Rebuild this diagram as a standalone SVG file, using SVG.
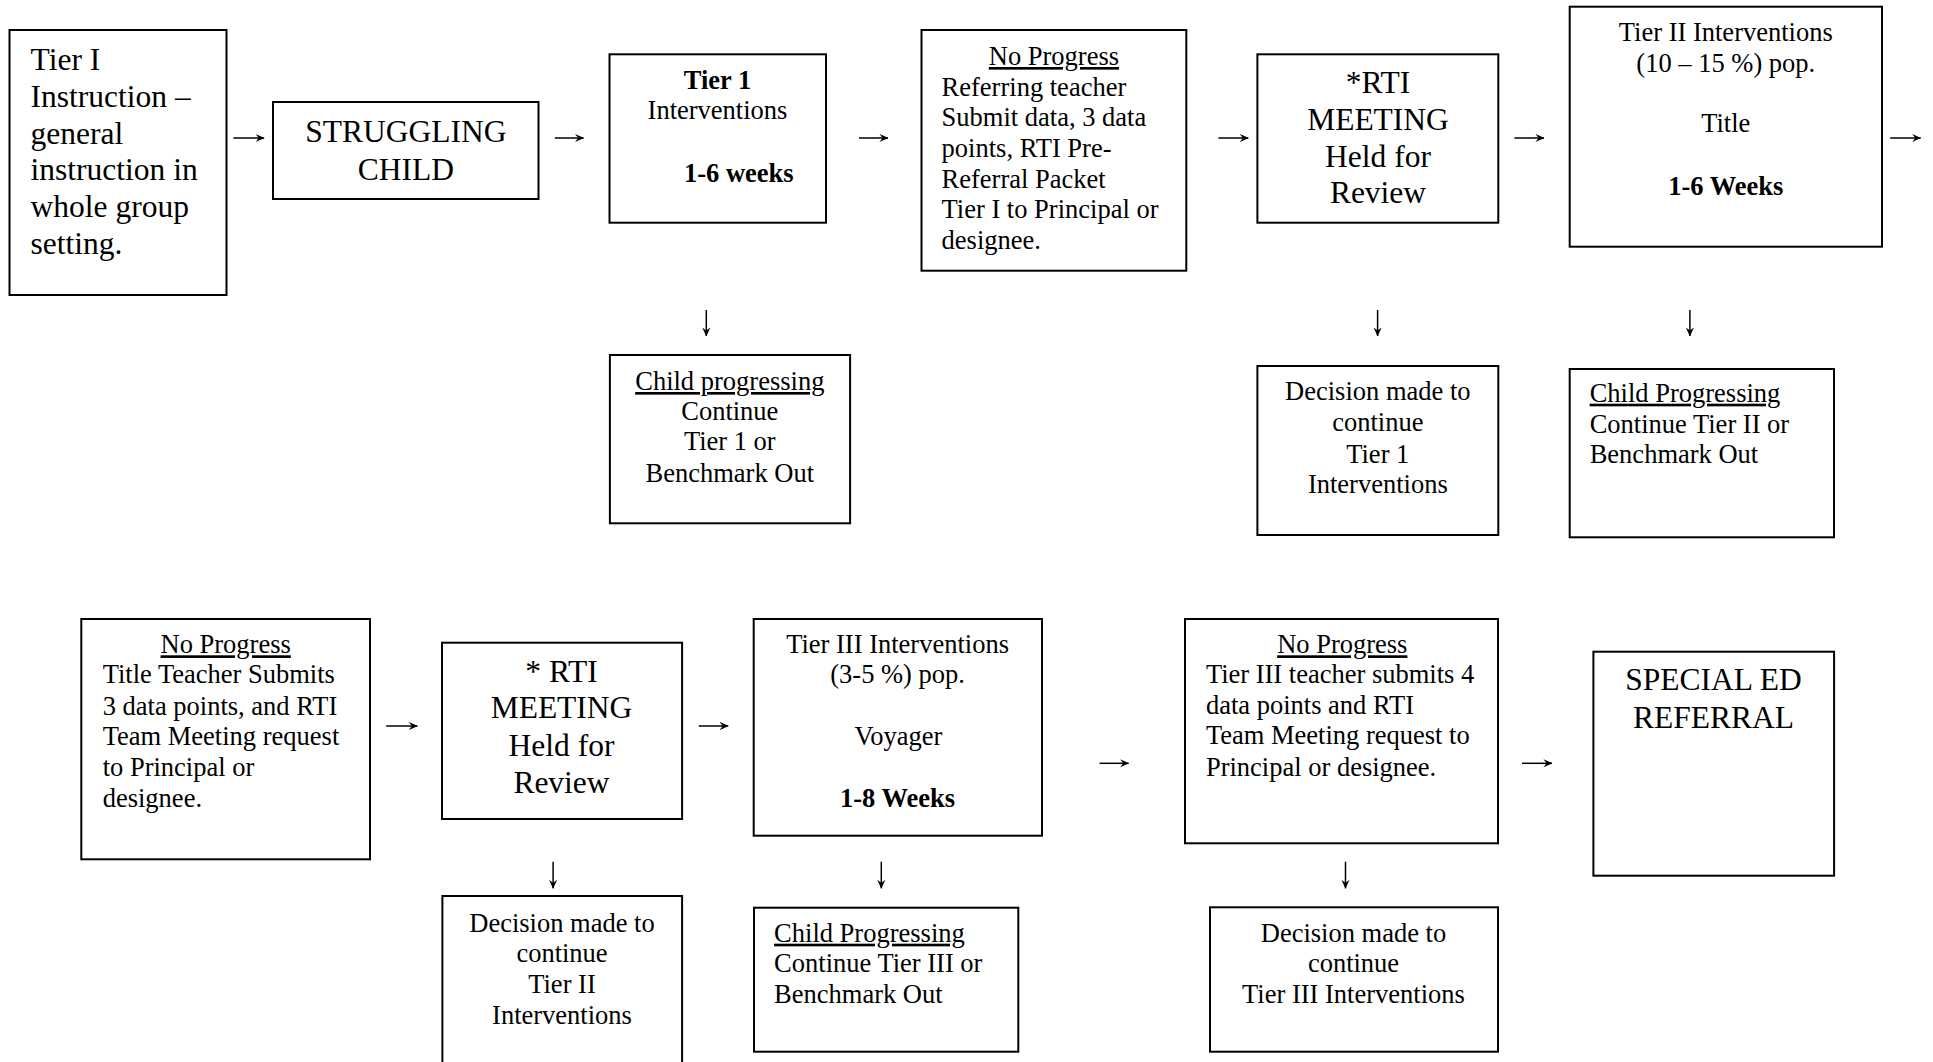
<svg xmlns="http://www.w3.org/2000/svg" width="1933" height="1062" viewBox="0 0 1933 1062">
<style>
.box{fill:#fff;stroke:#000;stroke-width:2}
.t{font-family:"Liberation Serif","Times New Roman",serif;fill:#000}
.big{font-size:31.5px}
.med{font-size:26.5px}
.c{text-anchor:middle}
.b{font-weight:bold}
.u{text-decoration:underline}
.conn{stroke:#000;stroke-width:1.5;fill:none}
</style>
<defs>
<marker id="ah" viewBox="0 0 10 10" refX="9.5" refY="5" markerWidth="9" markerHeight="9" markerUnits="userSpaceOnUse" orient="auto">
<path d="M0,0.5 L10,5 L0,9.5 L3.5,5 Z" fill="#000" stroke="none"/>
</marker>
</defs>
<rect width="1933" height="1062" fill="#fff"/>

<g id="connectors">
<path class="conn" marker-end="url(#ah)" d="M233.4,138 H264.1"/>
<path class="conn" marker-end="url(#ah)" d="M554.9,138 H583.6"/>
<path class="conn" marker-end="url(#ah)" d="M859,138 H888"/>
<path class="conn" marker-end="url(#ah)" d="M1218.4,138 H1248.3"/>
<path class="conn" marker-end="url(#ah)" d="M1514.4,138 H1544"/>
<path class="conn" marker-end="url(#ah)" d="M1890.2,138 H1920.7"/>
<path class="conn" marker-end="url(#ah)" d="M386.2,726 H417.4"/>
<path class="conn" marker-end="url(#ah)" d="M698.8,726 H728.2"/>
<path class="conn" marker-end="url(#ah)" d="M1099.6,763.3 H1128.7"/>
<path class="conn" marker-end="url(#ah)" d="M1522,763.3 H1552"/>
<path class="conn" marker-end="url(#ah)" d="M706.3,310 V336"/>
<path class="conn" marker-end="url(#ah)" d="M1377.6,310 V336"/>
<path class="conn" marker-end="url(#ah)" d="M1689.9,310 V336"/>
<path class="conn" marker-end="url(#ah)" d="M553.1,861.7 V888.3"/>
<path class="conn" marker-end="url(#ah)" d="M881.3,861.7 V888.3"/>
<path class="conn" marker-end="url(#ah)" d="M1345.5,861.7 V888.3"/>
</g>

<g id="tier1-instruction">
<rect class="box" x="9.5" y="30" width="217" height="265"/>
<text class="t big" x="30.6" y="70">Tier I</text>
<text class="t big" x="30.6" y="107">Instruction –</text>
<text class="t big" x="30.6" y="143.5">general</text>
<text class="t big" x="30.6" y="180">instruction in</text>
<text class="t big" x="30.6" y="217">whole group</text>
<text class="t big" x="30.6" y="253.5">setting.</text>
</g>

<g id="struggling-child">
<rect class="box" x="273" y="102" width="265.5" height="97"/>
<text class="t big c" x="405.8" y="142">STRUGGLING</text>
<text class="t big c" x="405.8" y="180">CHILD</text>
</g>

<g id="tier1-interventions">
<rect class="box" x="609.5" y="54.3" width="216.5" height="168.4"/>
<text class="t med c b" x="717.5" y="89">Tier 1</text>
<text class="t med c" x="717.5" y="119.3">Interventions</text>
<text class="t med b" x="684" y="181.7">1-6 weeks</text>
</g>

<g id="no-progress-1">
<rect class="box" x="921.5" y="30" width="264.8" height="240.7"/>
<text class="t med c u" x="1053.9" y="65">No Progress</text>
<text class="t med" x="941.6" y="95.7">Referring teacher</text>
<text class="t med" x="941.6" y="126">Submit data, 3 data</text>
<text class="t med" x="941.6" y="156.7">points, RTI Pre-</text>
<text class="t med" x="941.6" y="187.7">Referral Packet</text>
<text class="t med" x="941.6" y="218.3">Tier I to Principal or</text>
<text class="t med" x="941.6" y="249.3">designee.</text>
</g>

<g id="rti-meeting-1">
<rect class="box" x="1257.4" y="54.3" width="240.9" height="168.4"/>
<text class="t big c" x="1378" y="93.3">*RTI</text>
<text class="t big c" x="1378" y="130">MEETING</text>
<text class="t big c" x="1378" y="166.7">Held for</text>
<text class="t big c" x="1378" y="202.7">Review</text>
</g>

<g id="tier2-interventions">
<rect class="box" x="1569.7" y="6.7" width="312.3" height="240"/>
<text class="t med c" x="1725.8" y="40.7">Tier II Interventions</text>
<text class="t med c" x="1725.8" y="71.7">(10 – 15 %) pop.</text>
<text class="t med c" x="1725.8" y="131.7">Title</text>
<text class="t med c b" x="1725.8" y="195">1-6 Weeks</text>
</g>

<g id="child-progressing-1">
<rect class="box" x="609.9" y="355" width="240.2" height="168.3"/>
<text class="t med c u" x="729.8" y="390">Child progressing</text>
<text class="t med c" x="729.8" y="420">Continue</text>
<text class="t med c" x="729.8" y="450">Tier 1 or</text>
<text class="t med c" x="729.8" y="481.7">Benchmark Out</text>
</g>

<g id="decision-1">
<rect class="box" x="1257.4" y="366" width="240.9" height="169"/>
<text class="t med c" x="1377.8" y="400">Decision made to</text>
<text class="t med c" x="1377.8" y="431">continue</text>
<text class="t med c" x="1377.8" y="462.7">Tier 1</text>
<text class="t med c" x="1377.8" y="493.3">Interventions</text>
</g>

<g id="child-progressing-2">
<rect class="box" x="1569.7" y="369" width="264.3" height="168.3"/>
<text class="t med u" x="1589.7" y="401.7">Child Progressing</text>
<text class="t med" x="1589.7" y="432.7">Continue Tier II or</text>
<text class="t med" x="1589.7" y="463.3">Benchmark Out</text>
</g>

<g id="no-progress-2">
<rect class="box" x="81.3" y="619" width="288.7" height="240.3"/>
<text class="t med c u" x="225.7" y="653.3">No Progress</text>
<text class="t med" x="102.7" y="683.3">Title Teacher Submits</text>
<text class="t med" x="102.7" y="715">3 data points, and RTI</text>
<text class="t med" x="102.7" y="745">Team Meeting request</text>
<text class="t med" x="102.7" y="775.7">to Principal or</text>
<text class="t med" x="102.7" y="806.7">designee.</text>
</g>

<g id="rti-meeting-2">
<rect class="box" x="442" y="642.7" width="240.1" height="176.3"/>
<text class="t big c" x="561.5" y="681.7">* RTI</text>
<text class="t big c" x="561.5" y="718.3">MEETING</text>
<text class="t big c" x="561.5" y="755.7">Held for</text>
<text class="t big c" x="561.5" y="792.7">Review</text>
</g>

<g id="tier3-interventions">
<rect class="box" x="753.7" y="619" width="288.3" height="216.7"/>
<text class="t med c" x="897.6" y="653.3">Tier III Interventions</text>
<text class="t med c" x="897.6" y="683.3">(3-5 %) pop.</text>
<text class="t med c" x="898.5" y="745">Voyager</text>
<text class="t med c b" x="897.6" y="806.7">1-8 Weeks</text>
</g>

<g id="no-progress-3">
<rect class="box" x="1185" y="619" width="313" height="224.3"/>
<text class="t med c u" x="1342.3" y="653.3">No Progress</text>
<text class="t med" x="1205.9" y="683.3">Tier III teacher submits 4</text>
<text class="t med" x="1205.9" y="713.5">data points and RTI</text>
<text class="t med" x="1205.9" y="744.3">Team Meeting request to</text>
<text class="t med" x="1205.9" y="775.7">Principal or designee.</text>
</g>

<g id="special-ed-referral">
<rect class="box" x="1593.4" y="651.7" width="240.7" height="224"/>
<text class="t big c" x="1713.5" y="690">SPECIAL ED</text>
<text class="t big c" x="1713.5" y="728.3">REFERRAL</text>
</g>

<g id="decision-2">
<rect class="box" x="442.4" y="896" width="239.7" height="190"/>
<text class="t med c" x="562" y="931.7">Decision made to</text>
<text class="t med c" x="562" y="962.3">continue</text>
<text class="t med c" x="562" y="993.3">Tier II</text>
<text class="t med c" x="562" y="1024">Interventions</text>
</g>

<g id="child-progressing-3">
<rect class="box" x="754" y="907.7" width="264.3" height="144"/>
<text class="t med u" x="774.1" y="941.7">Child Progressing</text>
<text class="t med" x="774.1" y="972.3">Continue Tier III or</text>
<text class="t med" x="774.1" y="1002.7">Benchmark Out</text>
</g>

<g id="decision-3">
<rect class="box" x="1210" y="907.3" width="288" height="144.4"/>
<text class="t med c" x="1353.5" y="941.7">Decision made to</text>
<text class="t med c" x="1353.5" y="971.7">continue</text>
<text class="t med c" x="1353.5" y="1002.7">Tier III Interventions</text>
</g>
</svg>
